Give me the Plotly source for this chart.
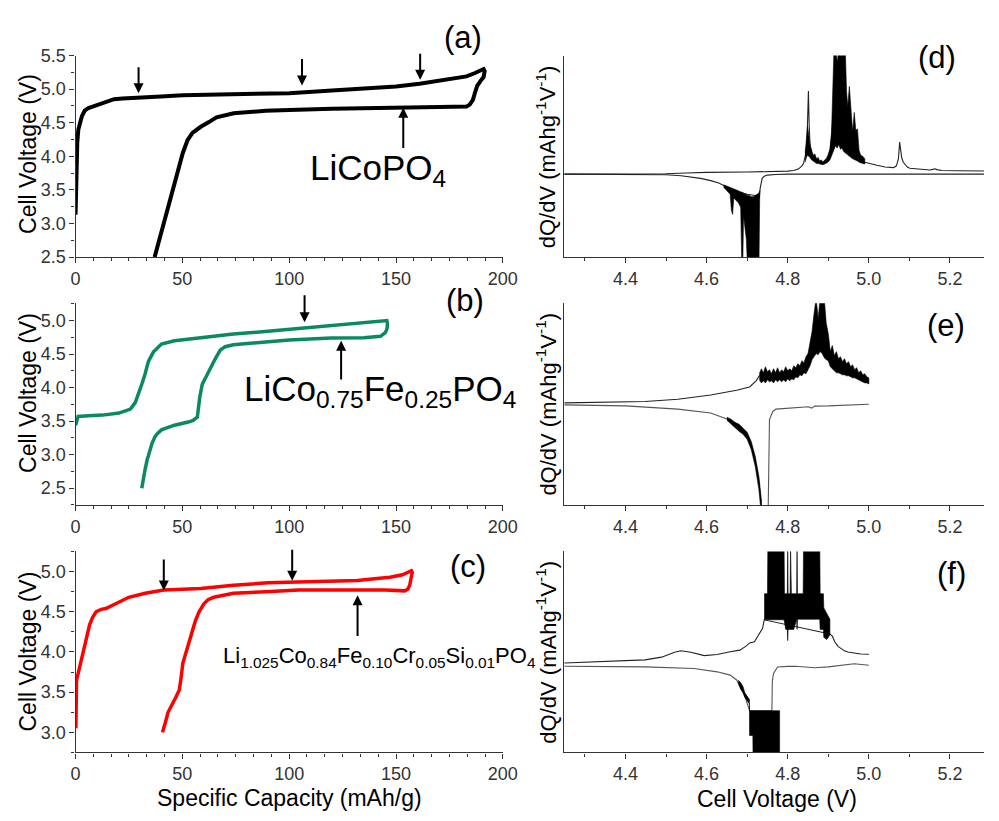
import plotly.graph_objects as go

# ---------------- data: voltage profiles (capacity mAh/g, voltage V) ----------------
a_cap = [0, 0.3, 0.5, 0.8, 1.3, 2, 3, 4.3, 6, 8, 11, 13, 15.5, 18, 22, 30, 40, 50, 75, 100, 120, 135, 150, 161,
         170, 178, 183, 187, 190, 191,
         191.5, 191, 189.5, 188, 187, 186, 184.5, 183, 170, 150, 120, 100, 89, 74, 66, 62.4, 58.6, 54.7, 52.4,
         50.2, 47.1, 43.7, 40.4, 37]
a_volt = [3.13, 3.6, 3.9, 4.2, 4.4, 4.5, 4.6, 4.68, 4.72, 4.74, 4.77, 4.79, 4.83, 4.85, 4.86, 4.87, 4.89, 4.91,
          4.925, 4.94, 4.98, 5.01, 5.04, 5.08, 5.12, 5.16, 5.19, 5.24, 5.28, 5.30,
          5.27, 5.18, 5.12, 5.05, 4.95, 4.84, 4.77, 4.74, 4.735, 4.73, 4.71, 4.69, 4.68, 4.64, 4.58, 4.51, 4.44,
          4.35, 4.24, 4.05, 3.68, 3.27, 2.88, 2.5]

b_cap = [0, 0.5, 1.2, 6, 12.7, 20.3, 25.7, 28, 29.5, 31, 32.5, 34.1, 36.4, 38.5, 40.2, 46.3, 60, 73.9, 90, 104.4,
         120, 135, 145.7,
         146, 145.8, 145, 142.7, 135, 119.7, 100, 89, 78, 73.9, 70, 67.7, 65.4, 62.4, 59.3, 58.1, 57.3, 57, 55,
         53.2, 46.3, 42, 40.2, 38.5, 37.2, 35.8, 34.9, 33.5, 32.6, 31.5, 31]
b_volt = [3.44, 3.52, 3.57, 3.58, 3.59, 3.62, 3.68, 3.78, 3.9, 4.05, 4.2, 4.39, 4.53, 4.6, 4.65, 4.70, 4.75, 4.80,
          4.84, 4.88, 4.92, 4.96, 5.0,
          4.95, 4.88, 4.82, 4.765, 4.745, 4.74, 4.71, 4.68, 4.66, 4.64, 4.61, 4.56, 4.43, 4.24, 4.05, 3.85, 3.65,
          3.56, 3.51, 3.49, 3.44, 3.40, 3.37, 3.32, 3.27, 3.17, 3.08, 2.92, 2.79, 2.62, 2.5]

c_cap = [0.15, 0.3, 0.46, 2, 4.3, 6.6, 8, 9.6, 12, 14.2, 18.8, 24.9, 32.6, 41.3, 58.6, 73.9, 90, 101.4, 120, 132,
         140, 147.2, 153, 157.2,
         157.6, 157, 156.4, 155.5, 154.1, 145, 135, 120, 104.4, 89.1, 73.9, 64.7, 62, 60.1, 57.8, 56, 54.7, 53,
         51.7, 50.2, 49.5, 48.6, 47, 45.6, 43.3, 42, 40.7]
c_volt = [3.05, 3.4, 3.65, 3.82, 4.10, 4.34, 4.43, 4.50, 4.53, 4.54, 4.60, 4.68, 4.73, 4.77, 4.79, 4.83, 4.86,
          4.87, 4.88, 4.89, 4.91, 4.93, 4.96, 5.01,
          4.99, 4.9, 4.83, 4.78, 4.76, 4.77, 4.77, 4.77, 4.77, 4.75, 4.73, 4.68, 4.65, 4.60, 4.50, 4.38, 4.26,
          4.14, 4.02, 3.86, 3.7, 3.53, 3.44, 3.37, 3.25, 3.12, 3.0]

# arrows: (capacity, tail voltage, head voltage)
a_arrows = [(29.5, 5.35, 4.94), (106, 5.47, 5.055), (161.3, 5.55, 5.14), (153.4, 4.10, 4.725)]
b_arrows = [(107.2, 5.40, 4.976), (124.3, 4.10, 4.70)]
c_arrows = [(41.3, 5.17, 4.766), (101.4, 5.29, 4.887), (132.0, 4.18, 4.705)]

# ---------------- data: dQ/dV (voltage V, arbitrary units) ----------------
d_chg_x = [4.249, 4.40, 4.50, 4.55, 4.60, 4.70, 4.77, 4.80, 4.815, 4.827, 4.835, 4.839, 4.843, 4.847, 4.849,
           4.851, 4.853, 4.855, 4.859, 4.863, 4.867, 4.875, 4.883, 4.889, 4.895, 4.900, 4.904, 4.908, 4.912,
           4.98, 4.99, 5.00, 5.02, 5.04, 5.061, 5.068, 5.073, 5.076, 5.078, 5.081, 5.085, 5.089, 5.095, 5.101,
           5.125, 5.150, 5.158, 5.163, 5.168, 5.18, 5.22, 5.284]
d_chg_y = [0.0, 0.0, 0.003, 0.01, 0.015, 0.018, 0.02, 0.025, 0.03, 0.045, 0.07, 0.09, 0.15, 0.25, 0.45, 0.70,
           0.40, 0.26, 0.17, 0.12, 0.13, 0.10, 0.095, 0.09, 0.105, 0.13, 0.18, 0.31, 0.5, 0.12, 0.10, 0.09,
           0.075, 0.06, 0.055, 0.07, 0.13, 0.27, 0.2, 0.14, 0.10, 0.08, 0.06, 0.05, 0.04, 0.035, 0.04, 0.045,
           0.038, 0.03, 0.028, 0.027]
d_chg_band_x = [4.843, 4.846, 4.849, 4.852, 4.855, 4.859, 4.863, 4.867, 4.871, 4.875, 4.879, 4.883, 4.887,
                4.891, 4.895, 4.899, 4.904, 4.908, 4.912, 4.914, 4.918, 4.922, 4.926, 4.930, 4.934, 4.938,
                4.942, 4.945, 4.948, 4.952, 4.956, 4.960, 4.964, 4.968, 4.972, 4.976, 4.980, 4.985, 4.990]
d_chg_band_hi = [0.18, 0.28, 0.40, 0.33, 0.24, 0.20, 0.16, 0.17, 0.13, 0.14, 0.11, 0.12, 0.10, 0.12, 0.13, 0.16,
                 0.21, 0.35, 0.72, 1.05, 1.05, 0.95, 1.05, 1.05, 1.05, 1.05, 1.05, 0.70, 0.57, 0.74, 0.55, 0.36,
                 0.52, 0.37, 0.38, 0.20, 0.16, 0.15, 0.13]
d_chg_band_lo = [0.10, 0.14, 0.16, 0.15, 0.14, 0.12, 0.11, 0.10, 0.09, 0.09, 0.085, 0.08, 0.08, 0.085, 0.09,
                 0.10, 0.12, 0.16, 0.19, 0.21, 0.24, 0.22, 0.25, 0.21, 0.22, 0.19, 0.18, 0.17, 0.16, 0.15, 0.14,
                 0.13, 0.12, 0.115, 0.11, 0.10, 0.095, 0.09, 0.085]
d_dis_x = [4.249, 4.45, 4.50, 4.537, 4.56, 4.585, 4.61, 4.63, 4.642, 4.66, 4.68, 4.70, 4.72, 4.730, 4.732,
           4.734, 4.737, 4.742, 4.75, 4.77, 4.80, 5.284]
d_dis_y = [0.0, 0.0, -0.005, -0.014, -0.025, -0.036, -0.055, -0.075, -0.096, -0.13, -0.15, -0.17, -0.18, -0.2,
           -0.12, -0.068, -0.035, -0.018, -0.008, -0.003, 0.0, 0.0]
d_dis_band_x = [4.642, 4.650, 4.658, 4.661, 4.664, 4.667, 4.672, 4.678, 4.684, 4.687, 4.689, 4.691, 4.694,
                4.698, 4.701, 4.705, 4.710, 4.715, 4.720, 4.725, 4.729, 4.731]
d_dis_band_hi = [-0.09, -0.10, -0.11, -0.115, -0.12, -0.125, -0.13, -0.14, -0.15, -0.15, -0.16, -0.16, -0.17,
                 -0.17, -0.18, -0.18, -0.19, -0.19, -0.18, -0.17, -0.16, -0.14]
d_dis_band_lo = [-0.11, -0.14, -0.17, -0.30, -0.34, -0.20, -0.22, -0.24, -0.28, -0.8, -0.8, -0.35, -0.45,
                 -0.55, -0.8, -0.8, -0.8, -0.8, -0.8, -0.8, -0.8, -0.30]

e_chg_x = [4.249, 4.35, 4.448, 4.529, 4.61, 4.674, 4.706, 4.722, 4.730, 4.738, 4.76, 4.78, 4.80, 4.827, 4.84,
           4.851, 4.859, 4.867, 4.872, 4.877, 4.882, 4.887, 4.892, 4.899, 4.907, 4.923, 4.948, 4.972, 4.996, 5.0]
e_chg_y = [0.012, 0.015, 0.025, 0.047, 0.089, 0.137, 0.17, 0.23, 0.28, 0.28, 0.27, 0.27, 0.28, 0.33, 0.37,
           0.45, 0.6, 0.7, 0.8, 0.75, 0.78, 0.7, 0.6, 0.6, 0.45, 0.39, 0.35, 0.29, 0.24, 0.22]
e_chg_band_x = [4.730, 4.735, 4.740, 4.745, 4.750, 4.755, 4.760, 4.765, 4.770, 4.775, 4.780, 4.785, 4.790,
                4.795, 4.800, 4.805, 4.810, 4.815, 4.820, 4.825, 4.830, 4.835, 4.840, 4.845, 4.850, 4.855,
                4.860, 4.865, 4.870, 4.875, 4.880, 4.885, 4.890, 4.895, 4.900, 4.905, 4.910, 4.915, 4.920,
                4.925, 4.930, 4.935, 4.940, 4.945, 4.950, 4.955, 4.960, 4.965, 4.970, 4.975, 4.980, 4.985,
                4.990, 4.995, 5.000]
e_chg_band_hi = [0.30, 0.35, 0.31, 0.37, 0.32, 0.34, 0.30, 0.35, 0.31, 0.36, 0.31, 0.34, 0.32, 0.37, 0.33, 0.35,
                 0.33, 0.38, 0.36, 0.40, 0.38, 0.43, 0.41, 0.47, 0.50, 0.62, 0.72, 0.90, 1.05, 0.85, 1.05, 1.05,
                 1.05, 0.80, 0.70, 0.52, 0.58, 0.48, 0.52, 0.45, 0.47, 0.42, 0.45, 0.40, 0.42, 0.37, 0.39, 0.34,
                 0.36, 0.31, 0.33, 0.29, 0.30, 0.27, 0.26]
e_chg_band_lo = [0.24, 0.21, 0.23, 0.21, 0.24, 0.22, 0.23, 0.21, 0.24, 0.22, 0.24, 0.22, 0.24, 0.22, 0.25, 0.23,
                 0.25, 0.24, 0.27, 0.26, 0.29, 0.28, 0.31, 0.30, 0.34, 0.38, 0.44, 0.47, 0.50, 0.49, 0.52, 0.50,
                 0.46, 0.44, 0.43, 0.37, 0.34, 0.33, 0.31, 0.31, 0.30, 0.29, 0.29, 0.28, 0.28, 0.27, 0.26, 0.26,
                 0.25, 0.24, 0.23, 0.22, 0.21, 0.21, 0.20]
e_dis_x = [4.249, 4.40, 4.529, 4.61, 4.65, 4.682, 4.698, 4.71, 4.72, 4.729, 4.735, 4.738, 4.750, 4.752, 4.755,
           4.763, 4.771, 4.811, 4.851, 4.859, 4.867, 4.90, 4.95, 5.0]
e_dis_y = [-0.008, -0.018, -0.05, -0.089, -0.147, -0.235, -0.30, -0.41, -0.57, -0.77, -1.0, -1.1, -1.1, -1.0,
           -0.154, -0.073, -0.05, -0.036, -0.027, -0.04, -0.02, -0.018, -0.01, -0.002]
e_dis_band_x = [4.65, 4.66, 4.67, 4.68, 4.69, 4.70, 4.71, 4.72, 4.729, 4.735]
e_dis_band_hi = [-0.13, -0.15, -0.18, -0.20, -0.24, -0.28, -0.37, -0.52, -0.72, -0.95]
e_dis_band_lo = [-0.16, -0.20, -0.23, -0.27, -0.30, -0.35, -0.45, -0.62, -0.85, -1.1]

f_chg_x = [4.249, 4.352, 4.448, 4.489, 4.521, 4.537, 4.561, 4.594, 4.626, 4.658, 4.682, 4.698, 4.706, 4.718,
           4.730, 4.738, 4.742, 4.904, 4.910, 4.916, 4.924, 4.932, 4.94, 4.948, 4.964, 4.98, 5.0]
f_chg_y = [0.012, 0.026, 0.04, 0.064, 0.107, 0.121, 0.107, 0.078, 0.087, 0.112, 0.126, 0.164, 0.19, 0.20, 0.265,
           0.32, 0.395, 0.27, 0.25, 0.2, 0.16, 0.14, 0.12, 0.11, 0.10, 0.092, 0.09]
f_chg_band_x = [4.742, 4.750, 4.751, 4.791, 4.792, 4.795, 4.799, 4.800, 4.801, 4.806, 4.807, 4.809, 4.815,
                4.822, 4.823, 4.824, 4.838, 4.839, 4.879, 4.880, 4.885, 4.888, 4.889, 4.896, 4.904]
f_chg_band_hi = [0.626, 0.626, 1.05, 1.05, 0.626, 0.626, 0.626, 1.05, 0.626, 0.626, 1.05, 0.626, 0.626, 0.626,
                 1.05, 0.626, 0.626, 1.05, 1.05, 0.626, 0.626, 0.626, 0.50, 0.45, 0.40]
f_chg_band_lo = [0.395, 0.395, 0.395, 0.395, 0.395, 0.31, 0.31, 0.21, 0.31, 0.31, 0.31, 0.31, 0.31, 0.40, 0.31,
                 0.40, 0.40, 0.40, 0.40, 0.31, 0.31, 0.31, 0.24, 0.22, 0.26]
f_dis_x = [4.249, 4.448, 4.569, 4.626, 4.658, 4.674, 4.694, 4.706, 4.761, 4.762, 4.765, 4.770, 4.775, 4.80,
           4.819, 4.867, 4.9, 4.964, 5.0]
f_dis_y = [-0.017, -0.022, -0.037, -0.066, -0.095, -0.138, -0.28, -0.41, -0.41, -0.15, -0.08, -0.045, -0.023,
           -0.018, -0.017, -0.03, -0.022, 0.006, -0.008]
f_dis_band_x = [4.678, 4.684, 4.690, 4.694, 4.7055, 4.706, 4.714, 4.7145, 4.780]
f_dis_band_hi = [-0.14, -0.16, -0.20, -0.25, -0.31, -0.41, -0.41, -0.41, -0.41]
f_dis_band_lo = [-0.16, -0.22, -0.25, -0.29, -0.35, -0.63, -0.63, -0.85, -0.85]

cap_ticks = [0, 50, 100, 150, 200]
volt_ticks = [4.4, 4.6, 4.8, 5.0, 5.2]

# ---------------- figure ----------------
W, H = 999, 821
FONT = "Liberation Sans, Arial, sans-serif"
AX = "#333333"
GREEN = "#0a8a5e"
RED = "#ff0000"

def px(x):
    return x / W

def py(y):
    return 1 - y / H

fig = go.Figure()

def profile(xs, ys, color, width, n):
    fig.add_trace(go.Scatter(x=xs, y=ys, mode="lines", line=dict(color=color, width=width),
                             xaxis=f"x{n}" if n > 1 else "x", yaxis=f"y{n}" if n > 1 else "y",
                             showlegend=False, hoverinfo="skip"))

profile(a_cap, a_volt, "black", 4, 1)
profile(b_cap, b_volt, GREEN, 3.5, 2)
profile(c_cap, c_volt, RED, 3.5, 3)

def band(bx, hi, lo, n):
    fig.add_trace(go.Scatter(x=list(bx) + list(bx)[::-1], y=list(hi) + list(lo)[::-1], mode="lines",
                             fill="toself", fillcolor="black", line=dict(color="black", width=0.6),
                             xaxis=f"x{n}", yaxis=f"y{n}", showlegend=False, hoverinfo="skip"))

def dq(xs, ys, n, color="#222222"):
    fig.add_trace(go.Scatter(x=xs, y=ys, mode="lines", line=dict(color=color, width=1.1),
                             xaxis=f"x{n}", yaxis=f"y{n}", showlegend=False, hoverinfo="skip"))

dq(d_chg_x, d_chg_y, 4); band(d_chg_band_x, d_chg_band_hi, d_chg_band_lo, 4)
dq(d_dis_x, d_dis_y, 4); band(d_dis_band_x, d_dis_band_hi, d_dis_band_lo, 4)
dq(e_chg_x, e_chg_y, 5); band(e_chg_band_x, e_chg_band_hi, e_chg_band_lo, 5)
dq(e_dis_x, e_dis_y, 5, "#555555"); band(e_dis_band_x, e_dis_band_hi, e_dis_band_lo, 5)
dq(f_chg_x, f_chg_y, 6); band(f_chg_band_x, f_chg_band_hi, f_chg_band_lo, 6)
dq(f_dis_x, f_dis_y, 6, "#555555"); band(f_dis_band_x, f_dis_band_hi, f_dis_band_lo, 6)

LX = [px(72), px(508)]
RX = [px(570.7), 1.0]
ROW1 = [py(253.3), py(46.7)]
ROW2 = [py(507.3), py(300.5)]
ROW3 = [py(761), py(555)]

tickfont = dict(family=FONT, size=18, color=AX)

def cap_axis(dom_anchor):
    return dict(domain=LX, anchor=dom_anchor, range=[0, 200], tickvals=cap_ticks, showline=True,
                linecolor=AX, linewidth=1.3, ticks="outside", ticklen=5, tickwidth=1.2, tickcolor=AX,
                tickfont=tickfont, showgrid=False, zeroline=False, fixedrange=True,
                minor=dict(ticks="outside", ticklen=3, dtick=50 / 6, tickcolor=AX, tickwidth=1))

def volt_yaxis(dom, rng, dtick, anchor):
    return dict(domain=dom, anchor=anchor, range=rng, dtick=dtick, tick0=0, showline=True, linecolor=AX,
                linewidth=1.3, ticks="outside", ticklen=5, tickwidth=1.2, tickcolor=AX, tickfont=tickfont,
                tickformat=".1f", showgrid=False, zeroline=False,
                minor=dict(ticks="outside", ticklen=3, dtick=0.25, tickcolor=AX, tickwidth=1))

def dq_xaxis(anchor):
    return dict(domain=RX, anchor=anchor, range=[4.249, 5.284], tickvals=volt_ticks,
                ticktext=[f"{v:.1f}" for v in volt_ticks],
                showline=True, linecolor=AX, linewidth=1.3, ticks="outside", ticklen=5, tickwidth=1.2,
                tickcolor=AX, tickfont=tickfont, showgrid=False, zeroline=False,
                minor=dict(ticks="outside", ticklen=3, tickvals=[4.3, 4.5, 4.7, 4.9, 5.1], tickcolor=AX,
                           tickwidth=1))

def dq_yaxis(dom, rng, anchor):
    return dict(domain=dom, anchor=anchor, range=rng, showline=True, linecolor=AX, linewidth=1.3,
                ticks="", showticklabels=False, showgrid=False, zeroline=False)

fig.update_layout(
    width=W, height=H, margin=dict(l=0, r=0, t=0, b=0), paper_bgcolor="white", plot_bgcolor="white",
    font=dict(family=FONT, color="black"), showlegend=False,
    xaxis=cap_axis("y"), yaxis=volt_yaxis(ROW1, [2.5, 5.5], 0.5, "x"),
    xaxis2=cap_axis("y2"), yaxis2=volt_yaxis(ROW2, [2.25, 5.26], 0.5, "x2"),
    xaxis3=cap_axis("y3"), yaxis3=volt_yaxis(ROW3, [2.75, 5.25], 0.5, "x3"),
    xaxis4=dq_xaxis("y4"), yaxis4=dq_yaxis(ROW1, [-0.7, 1.0], "x4"),
    xaxis5=dq_xaxis("y5"), yaxis5=dq_yaxis(ROW2, [-1.0, 1.0], "x5"),
    xaxis6=dq_xaxis("y6"), yaxis6=dq_yaxis(ROW3, [-0.78, 1.0], "x6"),
)

ann = []

def arrows(lst, n):
    xr = "x" if n == 1 else f"x{n}"
    yr = "y" if n == 1 else f"y{n}"
    for x, tail, head in lst:
        ann.append(dict(x=x, y=head, ax=x, ay=tail, xref=xr, yref=yr, axref=xr, ayref=yr, text="",
                        showarrow=True, arrowhead=2, arrowsize=1.0, arrowwidth=2, arrowcolor="black"))

arrows(a_arrows, 1)
arrows(b_arrows, 2)
arrows(c_arrows, 3)

ann.append(dict(x=141.7, y=3.80, xref="x", yref="y", text="LiCoPO<sub>4</sub>", showarrow=False,
                font=dict(family=FONT, size=35, color="black"), xanchor="center", yanchor="middle"))
ann.append(dict(x=142.4, y=3.95, xref="x2", yref="y2", text="LiCo<sub>0.75</sub>Fe<sub>0.25</sub>PO<sub>4</sub>",
                showarrow=False, font=dict(family=FONT, size=35, color="black"), xanchor="center",
                yanchor="middle"))
ann.append(dict(x=142.4, y=3.94, xref="x3", yref="y3",
                text="Li<sub>1.025</sub>Co<sub>0.84</sub>Fe<sub>0.10</sub>Cr<sub>0.05</sub>Si<sub>0.01</sub>PO<sub>4</sub>",
                showarrow=False, font=dict(family=FONT, size=22, color="black"), xanchor="center",
                yanchor="middle"))

for lab, x, y in [("(a)", 467, 28), ("(b)", 469, 298), ("(c)", 472, 570),
                  ("(d)", 951, 49), ("(e)", 960, 323), ("(f)", 966, 578)]:
    ann.append(dict(x=px(x), y=py(y), xref="paper", yref="paper", text=lab, showarrow=False,
                    font=dict(family=FONT, size=31, color="black"), xanchor="center", yanchor="middle"))

for y in [147.5, 392.5, 657.5]:
    ann.append(dict(x=px(23.5), y=py(y), xref="paper", yref="paper", text="Cell Voltage (V)", textangle=-90,
                    showarrow=False, font=dict(family=FONT, size=23, color="black"),
                    xanchor="center", yanchor="middle"))
for y in [150, 403.5, 657.7]:
    ann.append(dict(x=px(552), y=py(y), xref="paper", yref="paper",
                    text="dQ/dV (mAhg<sup>-1</sup>V<sup>-1</sup>)", textangle=-90,
                    showarrow=False, font=dict(family=FONT, size=22, color="black"),
                    xanchor="center", yanchor="middle"))

ann.append(dict(x=px(290), y=py(808), xref="paper", yref="paper", text="Specific Capacity (mAh/g)",
                showarrow=False, font=dict(family=FONT, size=23, color="black"), xanchor="center",
                yanchor="middle"))
ann.append(dict(x=px(788), y=py(809), xref="paper", yref="paper", text="Cell Voltage (V)",
                showarrow=False, font=dict(family=FONT, size=23, color="black"), xanchor="center",
                yanchor="middle"))

fig.update_layout(annotations=ann)
fig.write_html("out.html")
